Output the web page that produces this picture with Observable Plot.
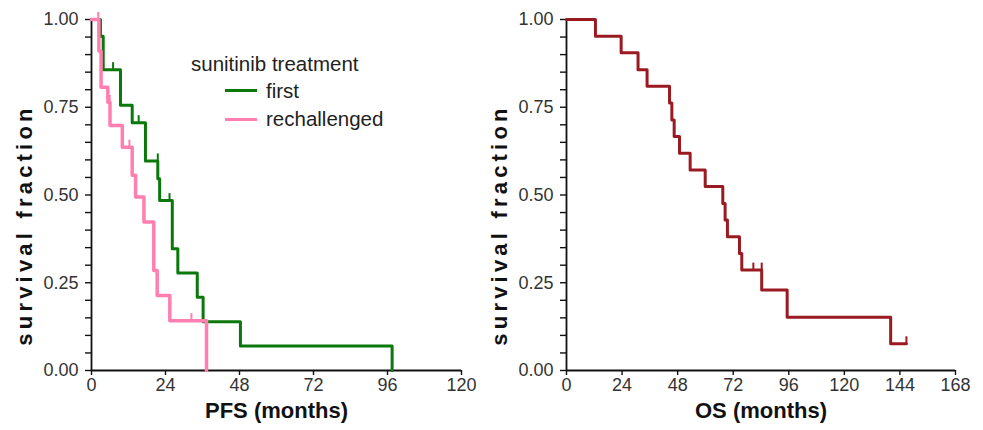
<!DOCTYPE html>
<html>
<head>
<meta charset="utf-8">
<script src="https://cdn.jsdelivr.net/npm/d3@7"></script>
<script src="https://cdn.jsdelivr.net/npm/@observablehq/plot@0.6"></script>
<style>
  html, body { margin: 0; padding: 0; background: #fff; }
  #wrap { position: relative; width: 983px; height: 430px; overflow: hidden; font-family: "Liberation Sans", Arial, sans-serif; }
  #left, #right { position: absolute; top: 0; }
  #left { left: 0; }
  #right { left: 466px; }
  .leg { position: absolute; font-size: 20.5px; line-height: 24px; color: #222; white-space: nowrap; }
  .sw { position: absolute; height: 3px; width: 32px; }
</style>
</head>
<body>
<div id="wrap">
  <div id="left"></div>
  <div id="right"></div>
  <div class="leg" style="left:191px; top:52px;">sunitinib treatment</div>
  <div class="sw" style="left:225px; top:89px; background:#0a780a;"></div>
  <div class="leg" style="left:266px; top:79px;">first</div>
  <div class="sw" style="left:225px; top:118px; background:#ff7fb0;"></div>
  <div class="leg" style="left:266px; top:107px;">rechallenged</div>
</div>
<script>
// ---- data (months, survival fraction) ----
const firstT = [0, 2.9, 3.8, 9.4, 13.2, 17.5, 21.5, 22.1, 26.2, 28.0, 34.3, 36.2, 48.3, 97.5];
const firstS = [1, 0.952, 0.857, 0.756, 0.706, 0.597, 0.546, 0.484, 0.347, 0.278, 0.209, 0.139, 0.070, 0];
const firstCensT = [7.0, 15.3, 21.5, 25.3];
const firstCensS = [0.857, 0.706, 0.597, 0.484];

const rechT = [0, 2.4, 3.1, 5.3, 6.0, 10.0, 13.2, 14.3, 17.0, 20.2, 21.3, 25.4, 37.3];
const rechS = [1, 0.91, 0.807, 0.764, 0.698, 0.636, 0.556, 0.494, 0.423, 0.285, 0.214, 0.142, 0];
const rechCensT = [2.2, 5.9, 12.3, 32.4];
const rechCensS = [1, 0.764, 0.636, 0.142];

const osT = [0, 12.5, 23.6, 30.9, 34.8, 44.5, 45.5, 46.5, 48.8, 53.4, 59.9, 67.5, 68.5, 69.5, 74.7, 75.7, 84.3, 95.3, 140, 146.8];
const osS = [1, 0.952, 0.905, 0.857, 0.810, 0.762, 0.714, 0.667, 0.619, 0.571, 0.524, 0.476, 0.429, 0.381, 0.333, 0.286, 0.229, 0.152, 0.076, 0.076];
const osCensT = [80.7, 84.3, 146.8];
const osCensS = [0.286, 0.286, 0.076];

const yTicks = [0, 0.25, 0.5, 0.75, 1];
const xTicksPFS = [0, 24, 48, 72, 96, 120];
const xTicksOS = [0, 24, 48, 72, 96, 120, 144, 168];

const colFirst = "#0a780a";
const colRech = "#ff7fb0";
const colOS = "#9a1a22";

const zip = (T, S) => T.map((t, i) => ({t, s: S[i]}));
const yMinor = d3.range(0, 1.0001, 0.05).map(v => +v.toFixed(2)).filter(v => !yTicks.includes(v));

function panel({width, marginLeft, marginRight, xDomain, xTicks, xLabel, series}) {
  const marks = [
    Plot.axisY({ticks: yMinor, tickSize: 6, strokeWidth: 1.4, text: null, label: null}),
    Plot.axisY({ticks: yTicks, tickSize: 6, strokeWidth: 1.4, tickPadding: 7, tickFormat: d3.format(".2f"), label: null, fill: "#333"}),
    Plot.axisX({ticks: xTicks, tickSize: 5, strokeWidth: 1.4, tickPadding: 3, tickFormat: d3.format("d"), label: null, fill: "#333"}),
    Plot.ruleX([0], {stroke: "#111", strokeWidth: 1.8}),
    Plot.ruleY([0], {stroke: "#111", strokeWidth: 1.8}),
    Plot.text(["survival fraction"], {frameAnchor: "left", textAnchor: "middle", lineAnchor: "middle", rotate: -90, dx: -67, dy: 30, fontWeight: "bold", fontSize: 22, fill: "#111"}),
    Plot.text([xLabel], {frameAnchor: "bottom", textAnchor: "middle", lineAnchor: "middle", dy: 40, fontWeight: "bold", fontSize: 22, fill: "#111"})
  ];
  for (const sr of series) {
    marks.push(Plot.line(zip(sr.T, sr.S), {x: "t", y: "s", curve: "step-after", stroke: sr.color, strokeWidth: sr.w}));
    marks.push(Plot.ruleX(zip(sr.cT, sr.cS), {x: "t", y1: "s", y2: d => d.s + 0.02, stroke: sr.color, strokeWidth: 2}));
  }
  const svg = Plot.plot({
    width, height: 430, marginLeft, marginRight, marginTop: 19, marginBottom: 60,
    x: {domain: xDomain},
    y: {domain: [0, 1]},
    style: {fontFamily: "'Liberation Sans', Arial, sans-serif", fontSize: "18px", color: "#111", background: "transparent"},
    marks
  });
  d3.select(svg).selectAll("text")
    .filter(function() { return this.textContent === "survival fraction"; })
    .style("letter-spacing", "4.2px");
  return svg;
}

document.getElementById("left").append(panel({
  width: 490, marginLeft: 91, marginRight: 29, xDomain: [0, 120], xTicks: xTicksPFS, xLabel: "PFS (months)",
  series: [
    {T: firstT, S: firstS, cT: firstCensT, cS: firstCensS, color: colFirst, w: 3},
    {T: rechT, S: rechS, cT: rechCensT, cS: rechCensS, color: colRech, w: 3.5}
  ]
}));
document.getElementById("right").append(panel({
  width: 517, marginLeft: 100, marginRight: 28, xDomain: [0, 168], xTicks: xTicksOS, xLabel: "OS (months)",
  series: [
    {T: osT, S: osS, cT: osCensT, cS: osCensS, color: colOS, w: 3}
  ]
}));
</script>
</body>
</html>
